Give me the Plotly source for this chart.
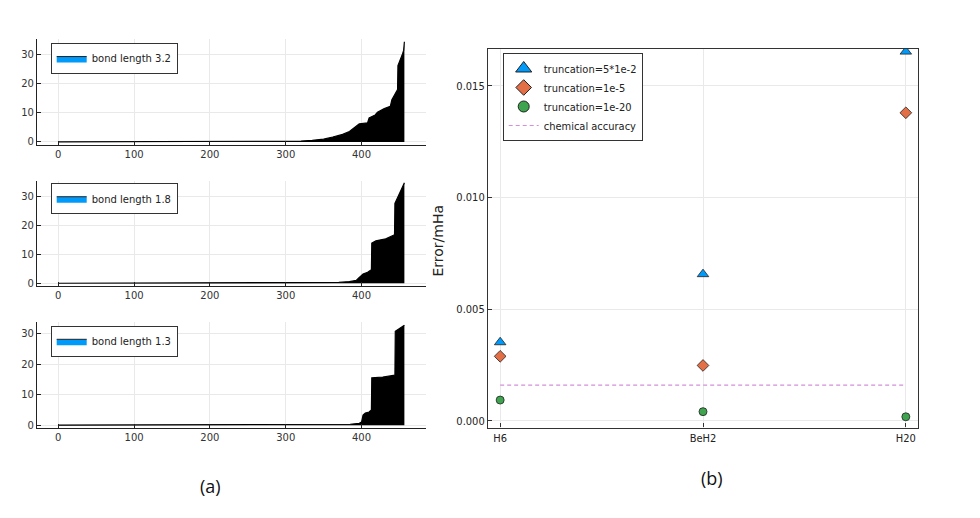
import plotly.graph_objects as go

# ---------------- data ----------------
# left panels: sorted error profile (index vs value)
idx_32 = [0.5, 300, 320, 335, 350, 362, 375, 384, 393, 397, 408, 410, 418, 421, 430, 438, 440, 445, 447.5, 448, 451, 454, 455.5, 456.5]
err_32 = [0.02, 0.1, 0.3, 0.55, 0.95, 1.7, 2.6, 3.6, 5.3, 6.2, 6.6, 8.3, 9.3, 10.2, 11.5, 12.3, 14.5, 16.6, 18.0, 26.3, 28.0, 30.3, 31.5, 34.5]

idx_18 = [0.5, 330, 370, 384, 393, 396, 402, 408, 413, 413.5, 419, 432, 441, 443.5, 444, 448, 452, 456.5]
err_18 = [0.02, 0.1, 0.3, 0.6, 1.0, 1.8, 3.2, 3.8, 4.7, 13.9, 14.7, 15.4, 16.3, 16.8, 27.6, 29.7, 32.2, 34.8]

idx_13 = [0.5, 340, 385, 397, 400, 402, 405, 410, 413, 413.5, 428, 444, 444.5, 456.5]
err_13 = [0.02, 0.1, 0.3, 0.6, 1.0, 3.3, 4.0, 4.3, 5.0, 15.5, 15.8, 16.4, 30.8, 32.8]

bond_labels = ["bond length 3.2", "bond length 1.8", "bond length 1.3"]
left_ticks_x = [0, 100, 200, 300, 400]
left_ticks_y = [0, 10, 20, 30]

# right panel
molecules = ["H6", "BeH2", "H20"]
mol_pos = [0, 1, 2]
trunc_5e2 = [0.00352, 0.00657, 0.01654]
trunc_1e5 = [0.00289, 0.00248, 0.01380]
trunc_1e20 = [0.00093, 0.00041, 0.00018]
chem_acc = [0.0016, 0.0016]
chem_acc_x = [0, 2]
right_ticks_y = [0.0, 0.005, 0.010, 0.015]

# ---------------- figure ----------------
W, H = 980, 518
fig = go.Figure()

GRID = "#e9e9e9"
BLUE, ORANGE, GREEN, PURPLE = "#009afa", "#e36f47", "#3ea44e", "#d48fdc"
FONT = "DejaVu Sans"
NARROW = "Liberation Sans Narrow, Arial Narrow, DejaVu Sans Condensed, Liberation Sans, sans-serif"

panels = [(idx_32, err_32), (idx_18, err_18), (idx_13, err_13)]
for i, (xs, ys) in enumerate(panels):
    ax = "" if i == 0 else str(i + 1)
    lg = "legend" if i == 0 else "legend" + str(i + 1)
    fig.add_trace(go.Scatter(
        x=xs, y=ys, mode="lines", fill="tozeroy", fillcolor="black",
        line=dict(color="black", width=1.2), showlegend=False,
        xaxis="x" + ax, yaxis="y" + ax, hoverinfo="skip"))
    fig.add_trace(go.Scatter(
        x=[None], y=[None], mode="lines", fill="toself", fillcolor=BLUE,
        line=dict(color="#222222", width=1), name=bond_labels[i],
        xaxis="x" + ax, yaxis="y" + ax, legend=lg))

# right panel real markers
common = dict(xaxis="x4", yaxis="y4", showlegend=False, mode="markers")
fig.add_trace(go.Scatter(x=chem_acc_x, y=chem_acc, mode="lines",
                         line=dict(color=PURPLE, width=1.2, dash="4px,3px"),
                         xaxis="x4", yaxis="y4", showlegend=False))
fig.add_trace(go.Scatter(x=mol_pos, y=trunc_5e2, marker=dict(symbol="triangle-up", size=10, color=BLUE,
                         line=dict(color="#222", width=0.8)), **common))
fig.add_trace(go.Scatter(x=mol_pos, y=trunc_1e5, marker=dict(symbol="diamond", size=9, color=ORANGE,
                         line=dict(color="#222", width=0.8)), **common))
fig.add_trace(go.Scatter(x=mol_pos, y=trunc_1e20, marker=dict(symbol="circle", size=8, color=GREEN,
                         line=dict(color="#222", width=0.8)), **common))
# legend entries (bigger markers as in the reference legend)
leg = dict(xaxis="x4", yaxis="y4", legend="legend4", mode="markers")
fig.add_trace(go.Scatter(x=[None], y=[None], name="truncation=5*1e-2",
                         marker=dict(symbol="triangle-up", size=14, color=BLUE, line=dict(color="#222", width=1)), **leg))
fig.add_trace(go.Scatter(x=[None], y=[None], name="truncation=1e-5",
                         marker=dict(symbol="diamond", size=12, color=ORANGE, line=dict(color="#222", width=1)), **leg))
fig.add_trace(go.Scatter(x=[None], y=[None], name="truncation=1e-20",
                         marker=dict(symbol="circle", size=11, color=GREEN, line=dict(color="#222", width=1)), **leg))
fig.add_trace(go.Scatter(x=[None], y=[None], name="chemical accuracy", mode="lines",
                         line=dict(color=PURPLE, width=1.2, dash="4px,3px"),
                         xaxis="x4", yaxis="y4", legend="legend4"))

def px_x(p):
    return p / W

def px_y(p):
    return 1 - p / H

left_dom_x = [px_x(37), px_x(426)]
left_y_doms = [(146, 39), (287.3, 181.7), (430.7, 324)]
left_y_ranges = [[-1.1, 35.5], [-0.8, 35.5], [-1.0, 33.8]]
legend_tops = [43.3, 184.3, 327.7]

layout = dict(
    width=W, height=H, margin=dict(l=0, r=0, t=0, b=0),
    paper_bgcolor="white", plot_bgcolor="white",
    font=dict(family=FONT, size=10, color="#222"),
)
for i in range(3):
    ax = "" if i == 0 else str(i + 1)
    b, t = left_y_doms[i]
    layout["xaxis" + ax] = dict(
        domain=left_dom_x, anchor="y" + ax, range=[-28, 485], tickvals=left_ticks_x,
        showgrid=True, gridcolor=GRID, gridwidth=0.8, zeroline=False,
        showline=True, linecolor="#222", linewidth=1.2, ticks="inside", ticklen=4,
        tickcolor="#222", tickfont=dict(size=10, family=FONT, color="#333"))
    layout["yaxis" + ax] = dict(
        domain=[px_y(b), px_y(t)], anchor="x" + ax, range=left_y_ranges[i], tickvals=left_ticks_y,
        showgrid=True, gridcolor=GRID, gridwidth=0.8, zeroline=False,
        showline=True, linecolor="#222", linewidth=1.2, ticks="inside", ticklen=4,
        tickcolor="#222", tickfont=dict(size=10, family=FONT, color="#333"))
    lg = "legend" if i == 0 else "legend" + str(i + 1)
    layout[lg] = dict(x=px_x(50.7), y=px_y(legend_tops[i]), xanchor="left", yanchor="top",
                      bgcolor="white", bordercolor="#333", borderwidth=1,
                      font=dict(size=10, family=FONT, color="#222"),
                      itemwidth=30, tracegroupgap=0)

layout["xaxis4"] = dict(
    domain=[px_x(488), px_x(918)], anchor="y4", range=[-0.06, 2.06],
    tickvals=mol_pos, ticktext=molecules,
    showgrid=True, gridcolor=GRID, gridwidth=0.8, zeroline=False,
    showline=True, mirror=True, linecolor="#333", linewidth=1.2, ticks="inside", ticklen=4,
    tickcolor="#333", tickfont=dict(size=11, family=NARROW, color="#222"))
layout["yaxis4"] = dict(
    domain=[px_y(430), px_y(49)], anchor="x4", range=[-0.0003, 0.01667],
    tickvals=right_ticks_y, tickformat=".3f",
    showgrid=True, gridcolor=GRID, gridwidth=0.8, zeroline=False,
    showline=True, mirror=True, linecolor="#333", linewidth=1.2, ticks="inside", ticklen=4,
    tickcolor="#333", tickfont=dict(size=11, family=NARROW, color="#222"))
layout["legend4"] = dict(x=px_x(502.7), y=px_y(53.3), xanchor="left", yanchor="top",
                         bgcolor="white", bordercolor="#333", borderwidth=1,
                         font=dict(size=11, family=NARROW, color="#222"),
                         itemsizing="trace", tracegroupgap=0)

layout["annotations"] = [
    dict(text="Error/mHa", x=px_x(438), y=px_y(242), xref="paper", yref="paper",
         showarrow=False, textangle=-90, font=dict(size=14, family=FONT, color="#222"),
         xanchor="center", yanchor="middle"),
    dict(text="(a)", x=px_x(210), y=px_y(489), xref="paper", yref="paper",
         showarrow=False, font=dict(size=18, family="Open Sans", color="#111"),
         xanchor="center", yanchor="middle"),
    dict(text="(b)", x=px_x(712), y=px_y(481), xref="paper", yref="paper",
         showarrow=False, font=dict(size=18, family="Open Sans", color="#111"),
         xanchor="center", yanchor="middle"),
]

fig.update_layout(**layout)
fig.write_html("out.html", config={"displayModeBar": False},
               post_script="document.body.style.margin='0';")
